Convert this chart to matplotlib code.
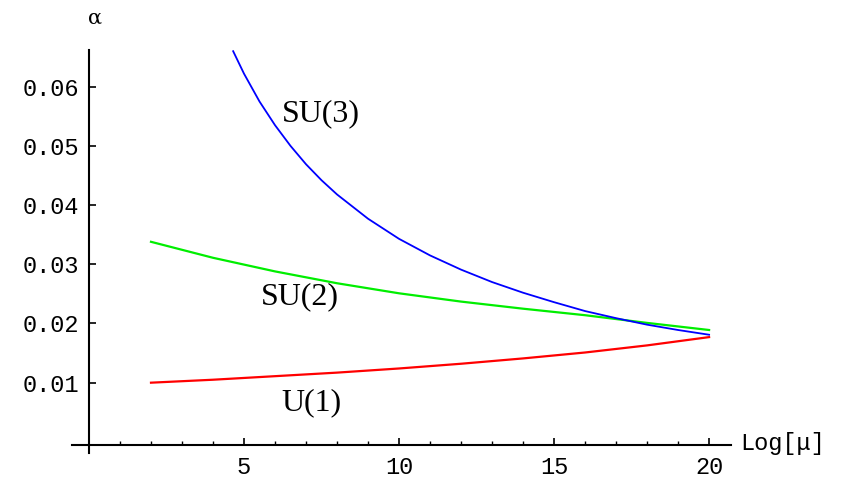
import matplotlib
matplotlib.use("Agg")
import matplotlib.pyplot as plt
from matplotlib.ticker import FixedLocator

# running couplings
x_u1 = [2, 4, 6, 8, 10, 12, 14, 16, 18, 20]
a_u1 = [0.0100, 0.0105, 0.0111, 0.0117, 0.0124, 0.0132, 0.0141, 0.0151, 0.0163, 0.0177]

x_su2 = [2, 4, 6, 8, 10, 12, 14, 16, 18, 20]
a_su2 = [0.0338, 0.0311, 0.0288, 0.0268, 0.0251, 0.0237, 0.0225, 0.0214, 0.0201, 0.0189]

x_su3 = [4.65, 5, 5.5, 6, 6.5, 7, 7.5, 8, 9, 10, 11, 12, 13, 14, 15, 16, 17, 18, 19, 20]
a_su3 = [0.0660, 0.0622, 0.0575, 0.0535, 0.0500, 0.0469, 0.0442, 0.0418, 0.0377, 0.0343,
         0.0315, 0.0291, 0.0270, 0.0252, 0.0236, 0.0221, 0.0209, 0.0198, 0.0189, 0.0181]

xticks = [5, 10, 15, 20]
xminor = [1, 2, 3, 4, 6, 7, 8, 9, 11, 12, 13, 14, 16, 17, 18, 19]
yticks = [0.01, 0.02, 0.03, 0.04, 0.05, 0.06]

fig = plt.figure(figsize=(8.48, 4.8), dpi=100)
ax = fig.add_axes([0, 0, 1, 1])

ax.plot(x_u1, a_u1, color="#ff0000", lw=1.6)
ax.plot(x_su2, a_su2, color="#00ee00", lw=1.6)
ax.plot(x_su3, a_su3, color="#0000ff", lw=1.3)

ax.set_xlim(-2.87, 24.48)
ax.set_ylim(-0.00644, 0.07465)

for s in ["top", "right"]:
    ax.spines[s].set_visible(False)
ax.spines["left"].set_position(("data", 0))
ax.spines["bottom"].set_position(("data", -0.0005))
ax.spines["left"].set_bounds(-0.0018, 0.0662)
ax.spines["bottom"].set_bounds(-0.55, 20.7)
ax.spines["left"].set_linewidth(1.5)
ax.spines["bottom"].set_linewidth(1.5)

ax.set_xticks(xticks)
ax.set_xticklabels([str(t) for t in xticks])
ax.xaxis.set_minor_locator(FixedLocator(xminor))
ax.set_yticks(yticks)
ax.set_yticklabels(["%.2f" % t for t in yticks])

tick_font = dict(family="Liberation Mono", size=17)
for lab in ax.get_xticklabels() + ax.get_yticklabels():
    lab.set_fontfamily("Liberation Mono")
    lab.set_fontsize(17)
ax.tick_params(axis="x", which="major", direction="in", length=5, width=1.2, pad=8)
ax.tick_params(axis="x", which="minor", direction="in", length=3, width=1.0)
ax.tick_params(axis="y", which="major", direction="in", length=5, width=1.2, pad=7)

ax.text(0.19, 0.0716, "α", ha="center", va="center", fontsize=15, family="DejaVu Serif")
ax.text(21.0, -0.0003, "Log[μ]", ha="left", va="center", **tick_font)

label_font = dict(family="Liberation Serif", size=23, ha="center", va="center")
ax.text(7.48, 0.0554, "SU(3)", **label_font)
ax.text(6.8, 0.0245, "SU(2)", **label_font)
ax.text(7.16, 0.0066, "U(1)", **label_font)

fig.savefig("out.png", dpi=100)
